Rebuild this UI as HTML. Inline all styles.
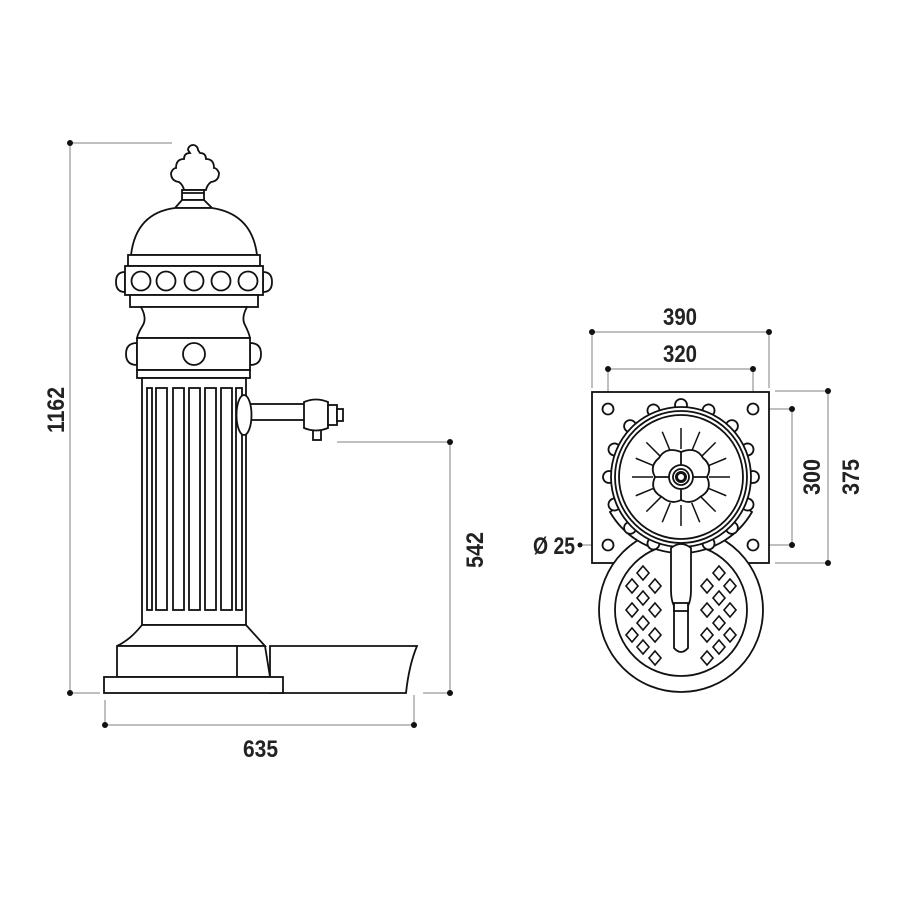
<!DOCTYPE html>
<html><head><meta charset="utf-8"><style>
html,body{margin:0;padding:0;background:#fff;}
svg{display:block}
text{font-family:"Liberation Sans Narrow","Liberation Sans",sans-serif;font-weight:bold;font-size:24px;fill:#222;}
</style></head><body>
<svg width="900" height="900" viewBox="0 0 900 900" xmlns="http://www.w3.org/2000/svg">
<g stroke="#aaa" stroke-width="1.5" fill="none">
<line x1="70" y1="143" x2="172" y2="143"/>
<line x1="70" y1="143" x2="70" y2="693"/>
<line x1="70" y1="693" x2="100" y2="693"/>
<line x1="337" y1="442" x2="450" y2="442"/>
<line x1="450" y1="442" x2="450" y2="693"/>
<line x1="423" y1="693" x2="450" y2="693"/>
<line x1="105" y1="725" x2="414" y2="725"/>
<line x1="105" y1="700" x2="105" y2="725"/>
<line x1="414" y1="695" x2="414" y2="725"/>
<line x1="592" y1="332" x2="769" y2="332"/>
<line x1="592" y1="332" x2="592" y2="388"/>
<line x1="769" y1="332" x2="769" y2="388"/>
<line x1="608" y1="369" x2="753" y2="369"/>
<line x1="608" y1="369" x2="608" y2="404"/>
<line x1="753" y1="369" x2="753" y2="404"/>
<line x1="775" y1="391" x2="828" y2="391"/>
<line x1="828" y1="391" x2="828" y2="563"/>
<line x1="775" y1="563" x2="828" y2="563"/>
<line x1="759" y1="409" x2="792" y2="409"/>
<line x1="792" y1="409" x2="792" y2="545"/>
<line x1="759" y1="545" x2="792" y2="545"/>
<line x1="580" y1="545" x2="602" y2="545"/>
</g>
<g fill="#111">
<circle cx="70" cy="143" r="3"/><circle cx="70" cy="693" r="3"/>
<circle cx="450" cy="442" r="3"/><circle cx="450" cy="693" r="3"/>
<circle cx="105" cy="725" r="3"/><circle cx="414" cy="725" r="3"/>
<circle cx="592" cy="332" r="3"/><circle cx="769" cy="332" r="3"/>
<circle cx="608" cy="369" r="3"/><circle cx="753" cy="369" r="3"/>
<circle cx="828" cy="391" r="3"/><circle cx="828" cy="563" r="3"/>
<circle cx="792" cy="409" r="3"/><circle cx="792" cy="545" r="3"/>
<circle cx="580" cy="545" r="2.5"/>
</g>
<text x="243" y="757" textLength="35" lengthAdjust="spacingAndGlyphs">635</text>
<text x="663" y="325" textLength="34" lengthAdjust="spacingAndGlyphs">390</text>
<text x="663" y="362" textLength="34" lengthAdjust="spacingAndGlyphs">320</text>
<text x="533" y="554" textLength="42" lengthAdjust="spacingAndGlyphs">Ø 25</text>
<text transform="translate(64,433) rotate(-90)" textLength="46" lengthAdjust="spacingAndGlyphs">1162</text>
<text transform="translate(483,568) rotate(-90)" textLength="36" lengthAdjust="spacingAndGlyphs">542</text>
<text transform="translate(820,495) rotate(-90)" textLength="36" lengthAdjust="spacingAndGlyphs">300</text>
<text transform="translate(859,495) rotate(-90)" textLength="36" lengthAdjust="spacingAndGlyphs">375</text>

<!-- fountain side view -->
<g stroke="#111" stroke-width="1.8" fill="#fff">
<path d="M188 150 a5 5 0 1 1 10 0 l2 3 q6 0 6 6 q8 0 8 9 q3 0 5 5 q0 8 -8 9 q-4 3 -5 8 h-22 q-1 -5 -5 -8 q-8 -1 -8 -9 q2 -5 5 -5 q0 -9 8 -9 q0 -6 6 -6 z"/>
<rect x="182" y="190" width="22" height="10"/>
<line x1="182" y1="193" x2="204" y2="193"/>
<path d="M175 208 L182 200 H204 L212 208 Z"/>
<path d="M131 255 Q136 213 175 208 H212 Q252 214 257 255 Z"/>
<rect x="128" y="255" width="132" height="11"/>
<path d="M125 272 q-9 0 -9 10 q0 10 9 10 Z"/>
<path d="M263 272 q9 0 9 10 q0 10 -9 10 Z"/>
<rect x="125" y="266" width="138" height="29"/>
<circle cx="141" cy="281" r="9.5"/><circle cx="166" cy="281" r="9.5"/><circle cx="194" cy="281" r="9.5"/><circle cx="221" cy="281" r="9.5"/><circle cx="248" cy="281" r="9.5"/>
<rect x="130" y="295" width="128" height="12"/>
<path d="M141 307 Q147 318 143 325 Q138 333 137 338 H250 Q249 333 245 325 Q241 318 247 307 Z"/>
<path d="M137 343 q-11 0 -11 11 q0 11 11 11 Z"/>
<path d="M250 343 q11 0 11 11 q0 11 -11 11 Z"/>
<rect x="137" y="338" width="113" height="32"/>
<circle cx="194" cy="354" r="11"/>
<rect x="137" y="370" width="113" height="8"/>
<rect x="142" y="378" width="104" height="247"/>
<g fill="none">
<rect x="147" y="388" width="5" height="222"/>
<rect x="156" y="388" width="11" height="222"/>
<rect x="173" y="388" width="11" height="222"/>
<rect x="189" y="388" width="11" height="222"/>
<rect x="205" y="388" width="11" height="222"/>
<rect x="221" y="388" width="11" height="222"/>
<rect x="236" y="388" width="6" height="222"/>
</g>
<rect x="250" y="404" width="56" height="16"/>
<ellipse cx="244" cy="415" rx="7.5" ry="20"/>
<rect x="313" y="428" width="8" height="12"/>
<path d="M304 402 Q316 397 328 402 V428 Q316 433 304 428 Z"/>
<rect x="328" y="405" width="9" height="20"/>
<rect x="337" y="409" width="6" height="12"/>
<path d="M270 646 H417 Q409 665 406 693 H270 Z"/>
<path d="M142 625 H246 L265 646 H117 Q130 640 142 625 Z"/>
<path d="M117 646 H265 L270 677 H117 Z"/>
<line x1="237" y1="646" x2="237" y2="677"/>
<rect x="104" y="677" width="179" height="16"/>
</g>

<!-- top view -->
<g stroke="#111" stroke-width="1.8" fill="#fff">
<rect x="592" y="392" width="177" height="171"/>
<circle cx="608" cy="409" r="5.5"/><circle cx="753" cy="409" r="5.5"/>
<circle cx="608" cy="545" r="5.5"/><circle cx="753" cy="545" r="5.5"/>
<circle cx="681" cy="610" r="82"/>
<circle cx="681" cy="610" r="66" fill="none"/>
<path d="M610 512 A82 82 0 0 0 752 512 L744 506 A72 72 0 0 1 618 506 Z"/>
<g>
<circle cx="681" cy="405" r="6"/>
<circle cx="681" cy="405" r="6" transform="rotate(22.5 681 477)"/>
<circle cx="681" cy="405" r="6" transform="rotate(45 681 477)"/>
<circle cx="681" cy="405" r="6" transform="rotate(67.5 681 477)"/>
<circle cx="681" cy="405" r="6" transform="rotate(90 681 477)"/>
<circle cx="681" cy="405" r="6" transform="rotate(112.5 681 477)"/>
<circle cx="681" cy="405" r="6" transform="rotate(135 681 477)"/>
<circle cx="681" cy="405" r="6" transform="rotate(157.5 681 477)"/>
<circle cx="681" cy="405" r="6" transform="rotate(180 681 477)"/>
<circle cx="681" cy="405" r="6" transform="rotate(202.5 681 477)"/>
<circle cx="681" cy="405" r="6" transform="rotate(225 681 477)"/>
<circle cx="681" cy="405" r="6" transform="rotate(247.5 681 477)"/>
<circle cx="681" cy="405" r="6" transform="rotate(270 681 477)"/>
<circle cx="681" cy="405" r="6" transform="rotate(292.5 681 477)"/>
<circle cx="681" cy="405" r="6" transform="rotate(315 681 477)"/>
<circle cx="681" cy="405" r="6" transform="rotate(337.5 681 477)"/>
</g>
<circle cx="681" cy="477" r="70"/>
<circle cx="681" cy="477" r="66" fill="none"/>
<circle cx="681" cy="477" r="62" fill="none"/>
<g stroke-width="1.5">
<line x1="681" y1="449" x2="681" y2="428"/>
<line x1="681" y1="449" x2="681" y2="428" transform="rotate(22.5 681 477)"/>
<line x1="681" y1="449" x2="681" y2="428" transform="rotate(45 681 477)"/>
<line x1="681" y1="449" x2="681" y2="428" transform="rotate(67.5 681 477)"/>
<line x1="681" y1="449" x2="681" y2="428" transform="rotate(90 681 477)"/>
<line x1="681" y1="449" x2="681" y2="428" transform="rotate(112.5 681 477)"/>
<line x1="681" y1="449" x2="681" y2="428" transform="rotate(135 681 477)"/>
<line x1="681" y1="449" x2="681" y2="428" transform="rotate(157.5 681 477)"/>
<line x1="681" y1="449" x2="681" y2="428" transform="rotate(180 681 477)"/>
<line x1="681" y1="449" x2="681" y2="428" transform="rotate(202.5 681 477)"/>
<line x1="681" y1="449" x2="681" y2="428" transform="rotate(225 681 477)"/>
<line x1="681" y1="449" x2="681" y2="428" transform="rotate(247.5 681 477)"/>
<line x1="681" y1="449" x2="681" y2="428" transform="rotate(270 681 477)"/>
<line x1="681" y1="449" x2="681" y2="428" transform="rotate(292.5 681 477)"/>
<line x1="681" y1="449" x2="681" y2="428" transform="rotate(315 681 477)"/>
<line x1="681" y1="449" x2="681" y2="428" transform="rotate(337.5 681 477)"/>
</g>
<path d="M681 452 Q696 446 703 458 Q713 466 707 477 Q713 490 700 497 Q691 505 681 500 Q671 505 662 497 Q649 490 655 477 Q649 466 659 458 Q666 446 681 452 Z"/>
<line x1="681" y1="452" x2="681" y2="500"/><line x1="655" y1="477" x2="707" y2="477"/>
<circle cx="681" cy="477" r="12"/>
<circle cx="681" cy="477" r="8"/>
<circle cx="681" cy="477" r="4.5" stroke-width="3"/>
<path d="M671 548 Q681 540 691 548 V590 Q691 600 688 606 V648 Q681 656 674 648 V606 Q671 600 671 590 Z"/>
<rect x="674" y="603" width="14" height="8"/>
</g>
<g stroke="#111" stroke-width="1.6" fill="none">
<path d="M643 566 l6 7 l-6 7 l-6 -7 z M655 579 l6 7 l-6 7 l-6 -7 z M632 579 l6 7 l-6 7 l-6 -7 z M643 591 l6 7 l-6 7 l-6 -7 z M655 603 l6 7 l-6 7 l-6 -7 z M632 603 l6 7 l-6 7 l-6 -7 z M643 616 l6 7 l-6 7 l-6 -7 z M655 628 l6 7 l-6 7 l-6 -7 z M632 628 l6 7 l-6 7 l-6 -7 z M643 640 l6 7 l-6 7 l-6 -7 z M655 651 l6 7 l-6 7 l-6 -7 z"/>
<path d="M643 566 l6 7 l-6 7 l-6 -7 z M655 579 l6 7 l-6 7 l-6 -7 z M632 579 l6 7 l-6 7 l-6 -7 z M643 591 l6 7 l-6 7 l-6 -7 z M655 603 l6 7 l-6 7 l-6 -7 z M632 603 l6 7 l-6 7 l-6 -7 z M643 616 l6 7 l-6 7 l-6 -7 z M655 628 l6 7 l-6 7 l-6 -7 z M632 628 l6 7 l-6 7 l-6 -7 z M643 640 l6 7 l-6 7 l-6 -7 z M655 651 l6 7 l-6 7 l-6 -7 z" transform="translate(1362 0) scale(-1 1)"/>
</g>
</svg>
</body></html>
